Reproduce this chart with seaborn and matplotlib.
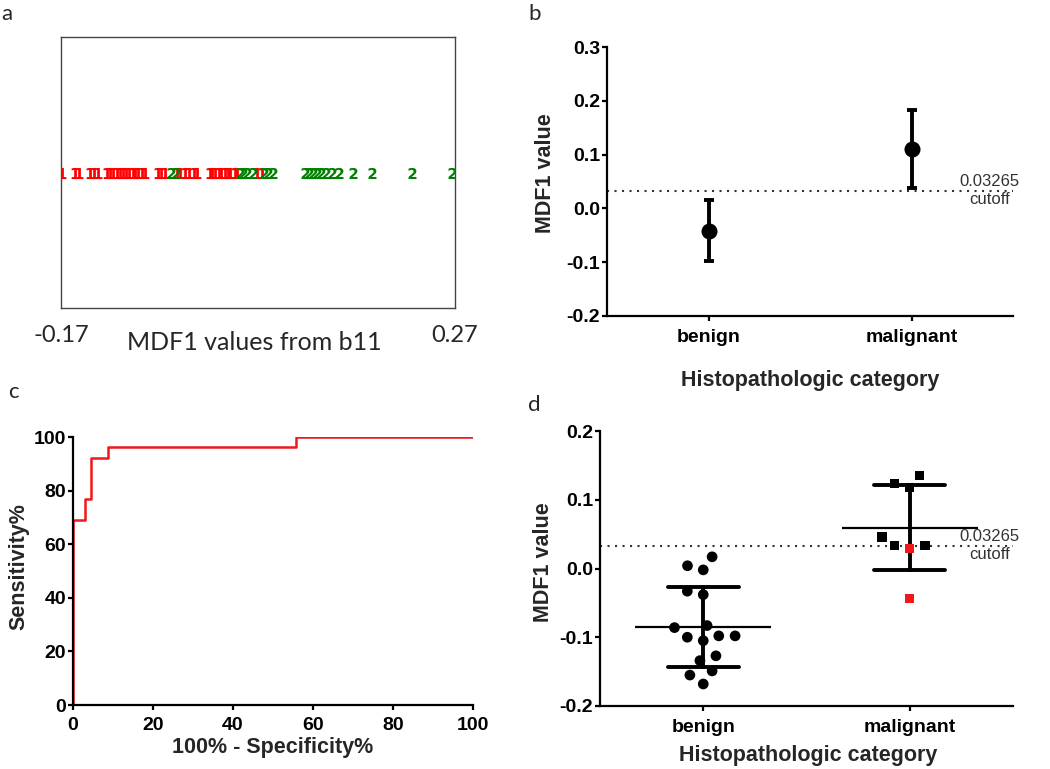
import numpy as np
import pandas as pd
import seaborn as sns
import matplotlib.pyplot as plt

# panel a: MDF1 values from b11 (1 = benign, 2 = malignant)
a_benign = [-0.169, -0.154, -0.150, -0.138, -0.133, -0.129, -0.119, -0.115, -0.112,
            -0.108, -0.104, -0.101, -0.097, -0.094, -0.090, -0.087, -0.084, -0.079,
            -0.076, -0.062, -0.058, -0.054, -0.041, -0.037, -0.031, -0.027, -0.021,
            -0.018, -0.004, -0.001, 0.002, 0.006, 0.009, 0.013, 0.016, 0.019, 0.024,
            0.027, 0.049, 0.054]
a_malignant = [-0.047, -0.042, 0.030, 0.033, 0.038, 0.044, 0.057, 0.061, 0.067,
               0.102, 0.107, 0.111, 0.116, 0.120, 0.126, 0.133, 0.141, 0.156,
               0.177, 0.222, 0.267]
a_limits = [-0.17, 0.27]

# panel b: mean with error bars
b_categories = ['benign', 'malignant']
b_mean = [-0.042, 0.110]
b_low = [-0.098, 0.037]
b_high = [0.015, 0.182]

cutoff = 0.03265

# panel c: ROC curve
roc_fpr = [0, 0, 2.9, 4.4, 8.7, 55.7, 100]
roc_tpr = [0, 69.2, 76.9, 92.3, 96.2, 100, 100]

# panel d: individual MDF1 values
d_benign = [0.017, 0.004, -0.002, -0.033, -0.038, -0.086, -0.083, -0.098,
            -0.098, -0.100, -0.105, -0.127, -0.134, -0.149, -0.155, -0.168]
d_malignant = [0.135, 0.118, 0.124, 0.046, 0.033, 0.033, 0.029, -0.044]
d_malignant_call = ['correct'] * 6 + ['misclassified'] * 2

sns.set_theme(style='ticks')
plt.rcParams['font.family'] = ['Liberation Sans', 'DejaVu Sans']
plt.rcParams['font.weight'] = 'bold'
plt.rcParams['axes.labelweight'] = 'bold'
plt.rcParams['axes.unicode_minus'] = False

fig = plt.figure(figsize=(10.5, 7.69), dpi=100)
RED = '#f01818'


def prism_axes(ax):
    sns.despine(ax=ax)
    for side in ['left', 'bottom']:
        ax.spines[side].set_linewidth(1.6)
        ax.spines[side].set_color('black')
    ax.tick_params(width=1.6, length=3.5, labelsize=14, color='black', labelcolor='black')
    ax.tick_params(axis='y', pad=1.5)
    ax.tick_params(axis='x', pad=5.5)


def cutoff_line(ax):
    ax.axhline(cutoff, color='#333333', lw=1.5, ls=(0, (1, 2.6)))
    tr = ax.get_yaxis_transform()
    ax.text(0.943, cutoff + 0.003 * (ax.get_ylim()[1] - ax.get_ylim()[0]) / 0.4, '0.03265',
            transform=tr, ha='center', va='bottom', fontsize=12, fontweight='normal',
            color='#333333', clip_on=False)
    ax.text(0.943, cutoff - 0.002, 'cutoff', transform=tr, ha='center', va='top',
            fontsize=12, fontweight='normal', color='#333333', clip_on=False)


# ---- panel a
ax = fig.add_axes([61 / 1050, 1 - 308 / 769, 394 / 1050, 271 / 769])
sns.stripplot(x=a_benign, jitter=False, marker='$1$', color='red', size=8, ax=ax)
sns.stripplot(x=a_malignant, jitter=False, marker='$2$', color='green', size=8, ax=ax)
ax.set_xlim(a_limits)
ax.set_ylim(1, -1)
ax.set_yticks([])
ax.set_xticks(a_limits)
ax.set_xticklabels(['-0.17', '0.27'], fontsize=17, fontweight='normal', family='Lato')
ax.tick_params(axis='x', length=0, pad=12)
for sp in ax.spines.values():
    sp.set_visible(True)
    sp.set_color('#444444')
    sp.set_linewidth(1.0)
ax.set_xlabel('MDF1 values from b11', fontsize=18, fontweight='normal', family='Lato')
ax.xaxis.set_label_coords(0.49, -0.085)

# ---- panel b
ax = fig.add_axes([607 / 1050, 1 - 316 / 769, 406 / 1050, 269 / 769])
sns.pointplot(x=b_categories, y=b_mean, color='black', linestyle='none', marker='o',
              markersize=9.5, errorbar=None, ax=ax)
ax.errorbar(range(len(b_categories)), b_mean,
            yerr=[np.subtract(b_mean, b_low), np.subtract(b_high, b_mean)],
            fmt='none', ecolor='black', elinewidth=2.8, capsize=3.6, capthick=2.8)
ax.set_xlim(-0.5, 1.5)
ax.set_ylim(-0.2, 0.3)
ax.set_yticks(np.arange(-0.2, 0.31, 0.1))
prism_axes(ax)
cutoff_line(ax)
ax.set_ylabel('MDF1 value', fontsize=15.5)
ax.set_xlabel('Histopathologic category', fontsize=15.5)
ax.yaxis.set_label_coords(-0.125, 0.53)
ax.xaxis.set_label_coords(0.5, -0.2)

# ---- panel c
ax = fig.add_axes([73 / 1050, 1 - 705 / 769, 400 / 1050, 268 / 769])
sns.lineplot(x=roc_fpr, y=roc_tpr, drawstyle='steps-post', estimator=None, sort=False,
             color=RED, lw=1.8, ax=ax)
ax.set_xlim(0, 100)
ax.set_ylim(0, 100)
ax.set_xticks(range(0, 101, 20))
ax.set_yticks(range(0, 101, 20))
prism_axes(ax)
ax.set_ylabel('Sensitivity%', fontsize=15.5)
ax.set_xlabel('100% - Specificity%', fontsize=15.5)
ax.yaxis.set_label_coords(-0.11, 0.515)
ax.xaxis.set_label_coords(0.5, -0.12)

# ---- panel d
ax = fig.add_axes([600 / 1050, 1 - 706 / 769, 413 / 1050, 275 / 769])
d_df = pd.DataFrame({
    'category': ['benign'] * len(d_benign) + ['malignant'] * len(d_malignant),
    'value': d_benign + d_malignant,
    'call': ['correct'] * len(d_benign) + d_malignant_call,
})
order = ['benign', 'malignant']
# invisible edge widens the swarm spacing like the Prism layout
sns.swarmplot(data=d_df[d_df['category'] == 'benign'], x='category', y='value', order=order,
              color='black', marker='o', size=7.7, linewidth=3.5, edgecolor='none', ax=ax)
sns.swarmplot(data=d_df[d_df['category'] == 'malignant'], x='category', y='value', order=order,
              hue='call', palette={'correct': 'black', 'misclassified': RED},
              marker='s', size=6.7, linewidth=4, edgecolor='none', legend=False, ax=ax)
sns.pointplot(data=d_df, x='category', y='value', order=order, errorbar='sd',
              capsize=0.346, color='black', marker='_', markersize=98,
              markeredgewidth=1.6, linestyle='none', err_kws={'linewidth': 2.8}, ax=ax)
ax.set_xlim(-0.5, 1.5)
ax.set_ylim(-0.2, 0.2)
ax.set_yticks(np.arange(-0.2, 0.21, 0.1))
ax.yaxis.set_major_formatter(plt.FormatStrFormatter('%.1f'))
prism_axes(ax)
cutoff_line(ax)
ax.set_ylabel('MDF1 value', fontsize=15.5)
ax.set_xlabel('Histopathologic category', fontsize=15.5)
ax.yaxis.set_label_coords(-0.111, 0.524)
ax.xaxis.set_label_coords(0.504, -0.14)

# panel letters
for letter, x, y in [('a', 1, 20), ('b', 528, 20), ('c', 8, 398), ('d', 528, 411)]:
    fig.text(x / 1050, 1 - y / 769, letter, fontsize=16, fontweight='normal',
             family='Lato', va='baseline')

fig.savefig('out.png', dpi=100)
